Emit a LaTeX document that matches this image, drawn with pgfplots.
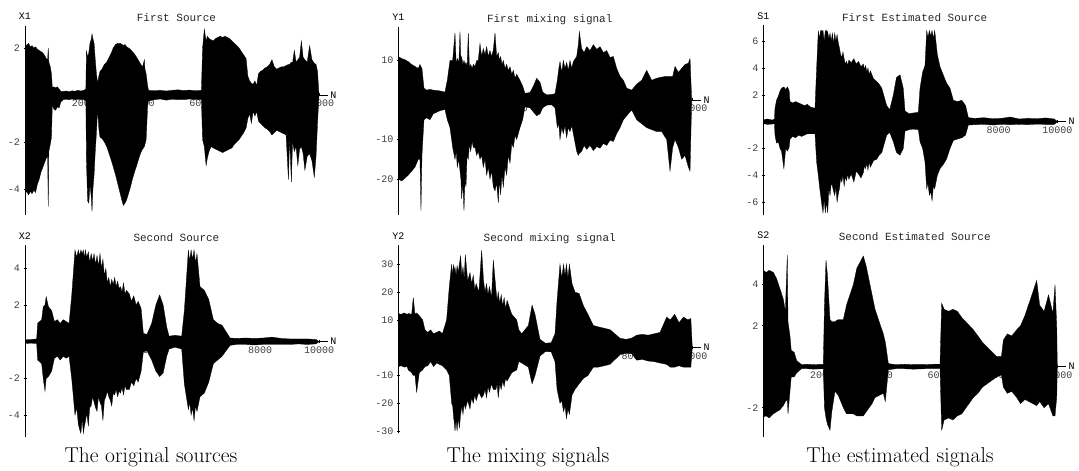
\documentclass[border=0pt]{standalone}
\usepackage{pgfplots}
\pgfplotsset{compat=1.18}
\usepackage{pgfplotstable}
\usepackage{fontspec}
\newfontfamily\cour{Liberation Mono}

% envelopes of the six signals: sample, upper, lower
\pgfplotstableread{
x hi lo
0 2.2 -4.2
60 2.1 -4.1
120 2.2 -4.25
180 2.05 -4.1
240 2.1 -4.2
300 2.0 -4.05
360 2.05 -4.15
420 1.95 -3.8
480 1.9 -3.6
540 1.85 -3.3
600 1.8 -3.1
660 1.7 -2.9
720 1.55 -2.7
770 1.5 -2.6
790 2.0 -4.75
810 1.4 -2.4
860 1.2 -2.1
900 0.9 -1.8
930 0.3 -0.4
980 0.35 -0.6
1040 0.3 -0.65
1100 0.35 -0.5
1160 0.25 -0.55
1220 0.15 -0.3
1300 0.15 -0.2
1400 0.17 -0.18
1500 0.14 -0.2
1600 0.18 -0.17
1700 0.16 -0.2
1800 0.2 -0.18
1900 0.17 -0.19
2000 0.2 -0.2
2070 0.25 -0.25
2090 1.9 -2.8
2130 1.6 -4.5
2170 1.8 -4.6
2210 2.2 -3.8
2250 2.35 -4.3
2280 2.6 -4.95
2310 2.4 -4.0
2350 2.2 -3.4
2390 1.5 -2.4
2430 0.9 -1.6
2470 0.5 -0.6
2510 0.8 -1.4
2550 1.0 -1.8
2620 1.1 -1.85
2700 1.3 -2.0
2780 1.4 -2.2
2860 1.6 -2.5
2940 1.8 -2.8
3000 2.0 -3.05
3080 2.15 -3.4
3160 2.2 -3.8
3240 2.2 -4.2
3300 2.15 -4.5
3345 2.1 -4.7
3400 2.15 -4.6
3460 2.05 -4.45
3520 2.0 -4.2
3580 1.95 -3.95
3650 1.85 -3.6
3720 1.75 -3.3
3800 1.6 -3.0
3870 1.45 -2.7
3940 1.3 -2.45
4000 1.2 -2.3
4060 1.5 -2.2
4080 1.1 -2.1
4120 0.9 -1.9
4170 0.4 -0.5
4200 0.2 -0.25
4400 0.18 -0.2
4600 0.2 -0.17
4800 0.17 -0.22
5000 0.2 -0.18
5200 0.22 -0.2
5400 0.19 -0.2
5600 0.21 -0.17
5800 0.18 -0.2
6000 0.2 -0.2
6040 2.0 -1.9
6100 2.8 -2.2
6160 2.3 -3.0
6200 2.5 -2.7
6260 2.4 -2.4
6330 2.35 -2.2
6400 2.3 -2.25
6480 2.4 -2.3
6560 2.45 -2.35
6640 2.5 -2.4
6720 2.45 -2.45
6800 2.5 -2.4
6880 2.45 -2.35
6960 2.4 -2.3
7040 2.3 -2.25
7120 2.2 -2.1
7200 2.1 -2.0
7280 2.0 -1.9
7360 1.85 -1.75
7440 1.7 -1.6
7520 1.55 -1.4
7580 0.8 -1.0
7640 0.6 -0.8
7700 0.5 -1.2
7760 0.45 -0.7
7820 0.6 -0.9
7880 0.4 -0.7
7940 0.9 -1.1
8000 1.0 -1.2
8080 1.05 -1.3
8160 1.15 -1.4
8240 1.2 -1.45
8320 1.3 -1.55
8400 1.5 -1.7
8480 1.2 -1.6
8560 1.1 -1.5
8640 1.15 -1.55
8720 1.2 -1.6
8800 1.2 -1.65
8880 1.25 -1.7
8960 1.3 -3.6
9000 1.3 -1.8
9060 1.4 -3.7
9100 1.35 -2.0
9160 1.9 -2.4
9220 1.4 -2.2
9280 1.5 -3.0
9340 1.6 -2.3
9400 2.3 -2.2
9460 1.6 -2.5
9520 1.5 -3.2
9600 1.4 -2.6
9680 2.1 -2.5
9760 1.5 -2.8
9840 1.35 -3.5
9900 1.3 -2.6
9950 1.0 -1.2
10000 0 0
}\xone

\pgfplotstableread{
x hi lo
0 11 -20
113 10.5 -20.5
227 10.2 -19.8
340 9.7 -19
454 9.0 -18
567 8.5 -17
680 8.0 -15
737 9 -15
771 8.4 -28
805 8.0 -14
873 3 -5
964 2.5 -4.5
1077 2.7 -5
1190 2.5 -3.5
1418 2.3 -2.7
1588 2.0 -2.4
1667 5 -5
1758 10 -7
1849 10 -12
1928 17 -15
1970 9 -13
2007 10.5 -17
2060 9.5 -15
2098 17.3 -18
2130 10 -20
2155 11 -25
2195 9 -21
2234 10 -28
2270 9 -20
2302 9.5 -22
2340 8.5 -14
2381 17 -15
2420 8 -11
2461 9 -13
2510 8 -10.5
2552 9 -12
2610 8.5 -12
2665 10 -14
2720 10 -13
2778 14.3 -15
2835 11 -14
2892 13 -17
2950 11.5 -15
3005 13.5 -19
3060 11 -17
3118 12.5 -20
3175 11 -18
3232 12.7 -22
3289 17 -23
3345 11 -21
3402 12 -26
3440 10 -20
3481 11 -24
3525 9 -19
3572 10 -22
3630 8 -17
3686 9 -19
3740 7.5 -14
3799 8.4 -16
3860 6.5 -11
3913 7.5 -12
3970 5.5 -9
4026 6.5 -10
4139 5 -7
4230 3.5 -5
4309 1.7 -1.7
4479 1.9 -2.0
4593 3.5 -3
4706 5.5 -4
4820 4.5 -3.5
4910 2 -2
5046 1.3 -1.3
5216 1.4 -1.2
5330 1.6 -2
5409 5 -7
5460 8 -6
5500 9.7 -10
5560 7 -7
5613 10 -8.5
5670 8 -6.5
5727 9.5 -9.5
5780 7.5 -7
5840 10 -8
5900 8 -6.5
5953 9.7 -8.5
6067 11 -13
6124 14 -14
6158 17.3 -13.5
6237 13 -13
6320 12 -11.5
6407 13.5 -12.5
6520 12.5 -11.5
6634 14 -12.8
6750 12.8 -11.8
6861 13.5 -12.2
6975 12 -11
7088 12.5 -11.5
7200 10.8 -10.2
7315 11 -10.5
7428 8 -8.5
7541 6 -7
7655 5 -5
7768 3 -4
7938 2.5 -2.5
8108 4 -5
8278 5 -6
8448 7.5 -7
8618 5 -7.5
8788 5.5 -8
8959 5.8 -8
9129 6 -10
9242 6 -18
9333 6 -12
9412 8.5 -10
9526 7 -12
9639 8 -15
9752 9 -14
9866 9.3 -17
9923 10.5 -18
9979 0 0
}\yone

\pgfplotstableread{
x hi lo
0 0.15 -0.15
150 0.2 -0.2
300 0.12 -0.18
380 0.2 -0.15
397 1.0 -1.0
450 1.6 -1.6
510 1.9 -1.5
570 2.3 -2.0
620 2.5 -2.2
700 2.6 -3.5
760 2.4 -2.0
820 2.6 -2.2
880 2.3 -1.9
907 1.5 -1.3
1000 1.4 -1.1
1100 1.5 -1.2
1200 1.4 -1.0
1300 1.3 -1.1
1400 1.2 -1.0
1500 1.3 -0.9
1600 1.1 -0.9
1758 1.0 -0.9
1814 4 -3
1871 6.8 -4
1910 6.2 -4.8
1950 6.8 -5.5
1990 6.8 -6.2
2030 6.8 -6.8
2070 6.0 -5.8
2110 6.8 -6.8
2150 6.8 -6.0
2190 6.7 -6.8
2230 6.2 -5.0
2270 6.6 -5.5
2310 6.0 -4.6
2350 6.6 -4.8
2390 5.8 -5.2
2430 6.6 -5.5
2470 6.0 -4.9
2510 6.5 -6.0
2550 5.9 -5.4
2590 5.5 -5.0
2630 5.0 -4.2
2670 4.8 -4.5
2710 5.2 -4.0
2750 4.7 -4.8
2790 4.3 -4.1
2830 4.5 -4.4
2870 4.2 -3.9
2910 4.6 -4.3
2990 4.4 -3.9
3080 4.7 -4.5
3160 4.3 -3.7
3240 4.5 -3.9
3320 4.1 -4.2
3402 4.3 -3.8
3440 3.9 -3.3
3480 4.2 -3.5
3520 3.7 -3.1
3560 4.0 -3.6
3600 3.5 -3.0
3640 3.8 -3.4
3750 3.2 -2.9
3856 3.0 -2.8
3940 2.8 -2.5
4030 2.5 -2.3
4196 1.2 -1.0
4300 0.9 -0.8
4423 2.0 -1.5
4530 3.3 -2.3
4650 3.5 -2.5
4760 2.5 -2.0
4820 0.8 -0.7
4950 0.6 -0.6
5100 0.65 -0.55
5273 0.7 -0.6
5330 2.5 -1.5
5420 3.7 -2.0
5500 4.2 -3.0
5557 6.8 -5.0
5600 6.3 -4.6
5650 6.8 -5.5
5695 6.4 -5.2
5740 6.8 -5.9
5785 6.2 -4.8
5830 6.8 -5.0
5920 5.0 -4.0
6010 4.1 -3.5
6120 3.5 -3.2
6230 2.9 -2.8
6350 2.5 -2.0
6464 1.6 -1.4
6600 1.5 -1.3
6750 1.6 -1.2
6880 1.2 -1.0
6974 0.3 -0.25
7200 0.25 -0.22
7500 0.3 -0.2
7800 0.22 -0.25
8100 0.25 -0.2
8400 0.35 -0.22
8700 0.2 -0.2
9000 0.25 -0.22
9300 0.22 -0.18
9600 0.28 -0.2
9900 0.2 -0.2
10000 0 0
}\sone

\pgfplotstableread{
x hi lo
0 0.1 -0.1
200 0.12 -0.08
397 0.15 -0.1
430 1.0 -1.0
567 1.2 -1.2
620 1.9 -2.0
680 2.0 -2.7
720 2.45 -2.0
800 1.9 -1.9
907 1.7 -1.6
1000 1.1 -0.9
1100 1.2 -0.8
1200 1.0 -1.0
1300 1.2 -0.8
1400 1.1 -0.9
1500 1.0 -0.8
1588 2.5 -2.0
1701 5 -4
1760 4.6 -3.6
1814 5 -4.5
1860 4.7 -4.8
1900 5 -5
1945 4.8 -4.2
1985 5 -5
2020 4.5 -4.6
2050 5 -4.4
2100 4.6 -3.9
2155 4.9 -4.6
2200 4.3 -3.6
2250 4.8 -3.5
2300 4.4 -3.0
2350 4.8 -3.3
2400 4.2 -3.6
2450 4.7 -3.8
2500 4.1 -3.0
2550 4.8 -3.3
2600 4.0 -3.5
2650 4.5 -4.3
2700 3.6 -3.2
2750 4.0 -3.0
2800 3.2 -2.7
2850 3.5 -3.0
2900 3.0 -3.2
2950 3.4 -3.5
3000 3.1 -2.8
3050 3.5 -2.9
3100 3.0 -2.6
3150 3.3 -3.0
3200 2.9 -2.7
3250 3.0 -2.8
3300 2.7 -2.5
3350 3.2 -2.9
3400 2.6 -2.4
3450 2.8 -2.6
3550 2.6 -2.6
3620 2.2 -2.2
3700 2.5 -2.4
3780 2.0 -2.0
3850 2.2 -2.2
3950 1.8 -1.6
4026 0.45 -0.55
4150 0.4 -0.5
4309 1.0 -1.0
4450 2.0 -1.6
4580 2.55 -1.9
4700 2.0 -1.7
4820 0.8 -0.8
4900 0.3 -0.4
5100 0.35 -0.3
5330 0.3 -0.4
5420 1.7 -2.3
5557 5 -3.7
5600 4.4 -3.3
5650 5 -4.0
5700 4.5 -3.6
5750 5 -4.3
5800 4.3 -3.5
5850 4.8 -3.8
5953 3 -3.0
6100 2.8 -2.8
6250 2.3 -2.2
6407 1.2 -1.2
6550 1.0 -1.0
6700 0.9 -0.8
6974 0.2 -0.2
7200 0.18 -0.15
7500 0.2 -0.15
7800 0.18 -0.18
8100 0.2 -0.15
8400 0.25 -0.15
8700 0.18 -0.15
9000 0.15 -0.15
9300 0.15 -0.12
9600 0.15 -0.15
9900 0.12 -0.12
10000 0 0
}\xtwo

\pgfplotstableread{
x hi lo
0 12.3 -6.8
100 12 -6.5
200 12.5 -7
300 12 -6.8
340 12.3 -8
454 12 -9
510 18 -10
567 12 -10
624 12.5 -16
714 11.5 -9
828 10 -8
907 6.4 -6.8
1000 5.5 -6.5
1100 6.4 -5
1200 5 -6.8
1300 5.5 -5.5
1400 6 -6
1500 5 -6.5
1644 10 -8
1735 22 -10
1814 30 -20
1850 26 -21
1880 30 -25
1905 27 -27
1928 29 -30
1965 26 -26
2000 29.5 -30
2040 27 -25
2075 30 -29
2120 33 -24
2160 26 -21
2200 29 -24
2240 25 -20
2280 33.5 -22
2360 24 -19
2438 27 -22
2495 23 -18
2550 26 -20
2600 21 -17
2650 23 -19
2740 20 -16
2835 35 -18
2900 24 -17
2950 20 -15
3000 23 -18
3050 19 -14
3100 22 -16
3170 18 -13
3232 31.5 -15
3320 21 -15
3360 17 -13
3400 20 -18
3450 16 -13
3500 19 -15
3550 15 -12
3600 18 -14
3650 14 -11
3700 17 -12
3860 12 -9
4026 10 -8
4100 6.4 -5
4200 5 -5.5
4423 8 -7
4550 15.3 -13
4650 12 -10
4820 3 -3
5000 1.6 -1.4
5200 1.8 -1.5
5330 5 -5
5400 17 -15
5500 30 -20
5560 25 -19
5620 30 -23
5670 26 -21
5720 30 -25.5
5770 25 -22
5820 30 -24
5910 23 -17
6010 20 -15
6150 19.5 -13
6300 15 -11
6450 12 -10
6634 8 -7
6800 7.5 -7
7000 7 -6.5
7200 6.5 -6
7541 3.4 -2.5
7750 3 -2
7950 3.5 -2.2
8108 4.5 -4.5
8300 4.8 -4.2
8500 4.5 -4.8
8700 5 -5
8900 5.5 -5.5
9129 11 -6
9250 10 -7
9400 12 -7
9550 9 -6.5
9700 11 -7
9850 10 -7
9950 10.5 -7
10000 0 0
}\ytwo

\pgfplotstableread{
x hi lo
0 4.7 -2.45
100 4.6 -2.4
200 4.7 -2.5
340 4.6 -2.3
450 4.3 -2.2
567 3.8 -2.1
680 3.3 -1.9
750 2.7 -1.7
816 5.45 -1.6
840 2.2 -2.3
907 1.5 -1.2
950 0.8 -0.5
1050 0.7 -0.5
1134 0.3 -0.3
1300 0.1 -0.1
1500 0.12 -0.1
1700 0.1 -0.12
2041 0.12 -0.1
2080 3.0 -2.0
2132 5.2 -2.5
2180 4.5 -2.8
2268 2.3 -3.1
2330 2.2 -2.2
2438 2.2 -1.2
2550 2.3 -1.4
2722 2.3 -2.0
2830 3 -2.3
3062 4 -2.3
3180 4.8 -2.4
3402 5.4 -2.4
3500 4.9 -2.2
3600 4.2 -2.0
3700 3.5 -1.8
3800 2.8 -1.5
4082 1.6 -1.3
4150 1.2 -1.7
4253 0.15 -0.15
4500 0.1 -0.1
4800 0.12 -0.1
5100 0.1 -0.12
5500 0.1 -0.1
5800 0.12 -0.1
6010 0.12 -0.1
6067 3.1 -3.1
6150 2.8 -2.6
6300 2.7 -2.5
6450 2.8 -2.6
6600 2.7 -2.4
6750 2.4 -2.3
7144 1.8 -1.5
7300 1.5 -1.3
7450 1.2 -1.0
7938 0.5 -0.5
8100 0.5 -0.4
8165 1.3 -1.0
8300 1.6 -1.3
8450 1.5 -1.2
8618 1.8 -1.5
8750 2.0 -1.8
8900 2.5 -1.6
9299 4.2 -1.9
9400 3.0 -1.7
9550 2.7 -2.0
9700 3.5 -1.8
9850 2.6 -2.4
9922 4.0 -2.4
9980 2.0 -1.5
10000 0 0
}\stwo

\pgfplotsset{
  wave/.style={
    set layers,
    axis lines=middle,
    axis line style={-, line width=0.5pt},
    anchor=south west,
    x=0.0294pt,
    xmin=0, xmax=10300,
    enlargelimits=false,
    scaled x ticks=false,
    scaled y ticks=false,
    xtick={2000,4000,6000,8000,10000},
    xticklabels={2000,4000,6000,8000,10000},
    minor x tick num=3,
    major tick length=3pt,
    minor tick length=1.5pt,
    tick style={black, line width=0.4pt},
    tick label style={font=\cour\fontsize{10}{12}\selectfont, text=black!75},
    title style={font=\cour\fontsize{11}{13}\selectfont, text=black!85, at={(0.5,1)}, anchor=base, yshift=-2pt},
    xlabel=N,
    xlabel style={font=\cour\fontsize{10}{12}\selectfont, anchor=west, xshift=-1pt},
    ylabel style={font=\cour\fontsize{10}{12}\selectfont, at={(0,1)}, anchor=base, yshift=6pt, rotate=0},
  },
  env/.style={draw=black, line width=0.3pt, fill=black},
}

\begin{document}
\begin{tikzpicture}

\begin{axis}[wave, at={(25pt,256.15pt)}, y=23.5pt, ymin=-5.1, ymax=2.94,
  ytick={-4,-2,2}, yticklabels={-4,-2,2}, minor y tick num=3,
  title={First Source}, ylabel={X1}]
\addplot[env] table[x=x,y=hi]{\xone} \closedcycle;
\addplot[env] table[x=x,y=lo]{\xone} \closedcycle;
\end{axis}

\begin{axis}[wave, at={(398.3pt,256.45pt)}, y=3.95pt, ymin=-29, ymax=18.5,
  ytick={-20,-10,10}, yticklabels={-20,-10,10}, minor y tick num=4,
  title={First mixing signal}, ylabel={Y1}]
\addplot[env] table[x=x,y=hi]{\yone} \closedcycle;
\addplot[env] table[x=x,y=lo]{\yone} \closedcycle;
\end{axis}

\begin{axis}[wave, at={(763.3pt,255.5pt)}, y=13.4pt, ymin=-7.0, ymax=7.2,
  ytick={-6,-4,-2,2,4,6}, yticklabels={-6,-4,-2,2,4,6}, minor y tick num=3,
  title={First Estimated Source}, ylabel={S1}]
\addplot[env] table[x=x,y=hi]{\sone} \closedcycle;
\addplot[env] table[x=x,y=lo]{\sone} \closedcycle;
\end{axis}

\begin{axis}[wave, at={(25pt,34.35pt)}, y=18.33pt, ymin=-5.18, ymax=5.27,
  ytick={-4,-2,2,4}, yticklabels={-4,-2,2,4}, minor y tick num=3,
  title={Second Source}, ylabel={X2}]
\addplot[env] table[x=x,y=hi]{\xtwo} \closedcycle;
\addplot[env] table[x=x,y=lo]{\xtwo} \closedcycle;
\end{axis}

\begin{axis}[wave, at={(398.3pt,37.68pt)}, y=2.78pt, ymin=-30.8, ymax=36.9,
  ytick={-30,-20,-10,10,20,30}, yticklabels={-30,-20,-10,10,20,30}, minor y tick num=4,
  title={Second mixing signal}, ylabel={Y2}]
\addplot[env] table[x=x,y=hi]{\ytwo} \closedcycle;
\addplot[env] table[x=x,y=lo]{\ytwo} \closedcycle;
\end{axis}

\begin{axis}[wave, at={(763.3pt,34.4pt)}, y=20.5pt, ymin=-3.41, ymax=5.94,
  ytick={-2,2,4}, yticklabels={-2,2,4}, minor y tick num=3,
  title={Second Estimated Source}, ylabel={S2}]
\addplot[env] table[x=x,y=hi]{\stwo} \closedcycle;
\addplot[env] table[x=x,y=lo]{\stwo} \closedcycle;
\end{axis}

\node[anchor=base, font=\fontsize{21.5}{26}\selectfont] at (151pt,8pt) {The original sources};
\node[anchor=base, font=\fontsize{21.5}{26}\selectfont] at (528pt,8pt) {The mixing signals};
\node[anchor=base, font=\fontsize{21.5}{26}\selectfont] at (900pt,8pt) {The estimated signals};

\pgfresetboundingbox
\path[use as bounding box] (0,0) rectangle (1079pt,471pt);
\end{tikzpicture}
\end{document}
